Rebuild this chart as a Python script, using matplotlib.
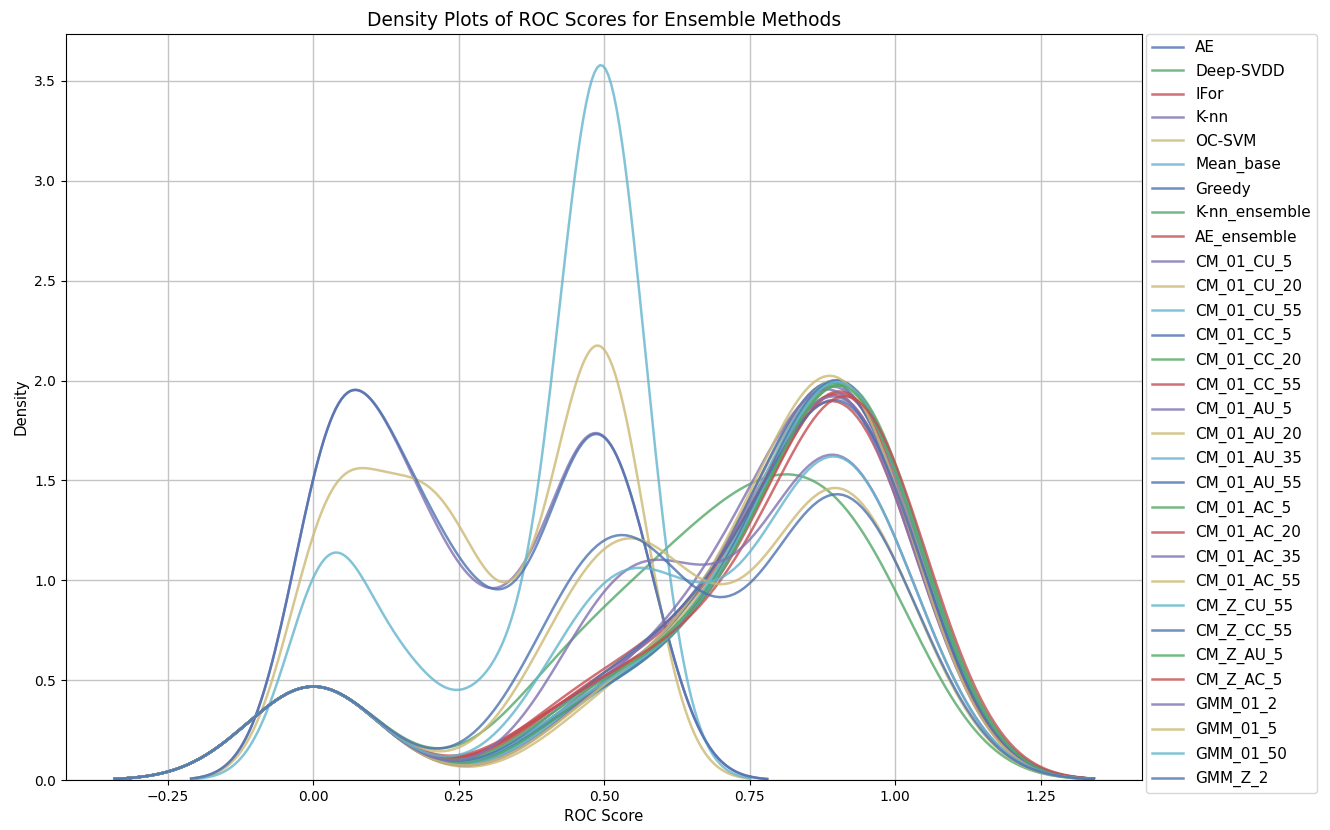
import numpy as np
import matplotlib
matplotlib.use("Agg")
import matplotlib.pyplot as plt

# ---------------- data: ROC scores per method (one value per dataset) ----------------
methods = ["AE", "Deep-SVDD", "IFor", "K-nn", "OC-SVM", "Mean_base", "Greedy",
           "K-nn_ensemble", "AE_ensemble", "CM_01_CU_5", "CM_01_CU_20", "CM_01_CU_55",
           "CM_01_CC_5", "CM_01_CC_20", "CM_01_CC_55", "CM_01_AU_5", "CM_01_AU_20",
           "CM_01_AU_35", "CM_01_AU_55", "CM_01_AC_5", "CM_01_AC_20", "CM_01_AC_35",
           "CM_01_AC_55", "CM_Z_CU_55", "CM_Z_CC_55", "CM_Z_AU_5", "CM_Z_AC_5",
           "GMM_01_2", "GMM_01_5", "GMM_01_50", "GMM_Z_2"]

scores_AE = [0, 0, 0.46, 0.59, 0.69, 0.76, 0.81, 0.85, 0.88, 0.90, 0.92, 0.94, 0.96, 0.98, 1.0]
scores_Deep_SVDD = [0, 0, 0.40, 0.48, 0.56, 0.62, 0.67, 0.72, 0.76, 0.80, 0.84, 0.88, 0.92, 0.96, 1.0]
scores_IFor = [0, 0, 0.43, 0.56, 0.66, 0.74, 0.80, 0.84, 0.88, 0.90, 0.92, 0.94, 0.96, 0.98, 1.0]
scores_Knn = [0.0, 0.015, 0.04, 0.07, 0.10, 0.14, 0.18, 0.23, 0.31, 0.39, 0.45, 0.47, 0.50, 0.53, 0.57]
scores_OC_SVM = [0.0, 0.02, 0.05, 0.10, 0.15, 0.19, 0.23, 0.27, 0.37, 0.45, 0.47, 0.49, 0.50, 0.52, 0.54]
scores_Mean_base = [0.0, 0.025, 0.07, 0.17, 0.32, 0.44, 0.46, 0.47, 0.48, 0.49, 0.50, 0.51, 0.52, 0.53, 0.55]
scores_Greedy = [0.0, 0.015, 0.04, 0.07, 0.10, 0.14, 0.18, 0.23, 0.30, 0.39, 0.45, 0.47, 0.50, 0.53, 0.57]
scores_Knn_ensemble = [0, 0, 0.45, 0.58, 0.68, 0.76, 0.81, 0.85, 0.88, 0.90, 0.92, 0.94, 0.96, 0.98, 1.0]
scores_AE_ensemble = [0, 0, 0.44, 0.56, 0.66, 0.73, 0.79, 0.84, 0.87, 0.89, 0.91, 0.93, 0.95, 0.98, 1.0]
scores_CM_01_CU_5 = [0, 0, 0.47, 0.60, 0.69, 0.75, 0.80, 0.84, 0.87, 0.89, 0.91, 0.94, 0.96, 0.98, 1.0]
scores_CM_01_CU_20 = [0, 0, 0.49, 0.61, 0.70, 0.76, 0.81, 0.84, 0.87, 0.90, 0.92, 0.94, 0.96, 0.98, 1.0]
scores_CM_01_CU_55 = [0, 0, 0.47, 0.60, 0.69, 0.76, 0.81, 0.85, 0.88, 0.90, 0.92, 0.94, 0.96, 0.98, 1.0]
scores_CM_01_CC_5 = [0, 0, 0.46, 0.59, 0.68, 0.75, 0.80, 0.84, 0.87, 0.89, 0.91, 0.93, 0.95, 0.97, 1.0]
scores_CM_01_CC_20 = [0, 0, 0.45, 0.59, 0.69, 0.76, 0.81, 0.85, 0.88, 0.91, 0.93, 0.95, 0.96, 0.98, 1.0]
scores_CM_01_CC_55 = [0, 0, 0.42, 0.56, 0.66, 0.74, 0.80, 0.85, 0.88, 0.90, 0.92, 0.94, 0.96, 0.98, 1.0]
scores_CM_01_AU_5 = [0, 0, 0.46, 0.58, 0.67, 0.74, 0.79, 0.83, 0.87, 0.89, 0.91, 0.94, 0.96, 0.98, 1.0]
scores_CM_01_AU_20 = [0, 0, 0.48, 0.60, 0.69, 0.76, 0.81, 0.85, 0.88, 0.90, 0.92, 0.94, 0.96, 0.98, 1.0]
scores_CM_01_AU_35 = [0, 0, 0.46, 0.60, 0.69, 0.76, 0.81, 0.85, 0.87, 0.90, 0.92, 0.94, 0.96, 0.98, 1.0]
scores_CM_01_AU_55 = [0, 0, 0.45, 0.59, 0.69, 0.76, 0.81, 0.85, 0.88, 0.90, 0.92, 0.94, 0.96, 0.98, 1.0]
scores_CM_01_AC_5 = [0, 0, 0.46, 0.59, 0.68, 0.75, 0.81, 0.85, 0.88, 0.91, 0.93, 0.94, 0.96, 0.98, 1.0]
scores_CM_01_AC_20 = [0, 0, 0.43, 0.55, 0.65, 0.72, 0.78, 0.83, 0.86, 0.89, 0.91, 0.93, 0.95, 0.97, 1.0]
scores_CM_01_AC_35 = [0, 0, 0.48, 0.60, 0.68, 0.74, 0.79, 0.83, 0.86, 0.88, 0.91, 0.93, 0.95, 0.97, 1.0]
scores_CM_01_AC_55 = [0, 0, 0.48, 0.60, 0.69, 0.76, 0.80, 0.84, 0.87, 0.89, 0.91, 0.93, 0.95, 0.97, 0.99]
scores_CM_Z_CU_55 = [0, 0, 0.45, 0.58, 0.68, 0.76, 0.81, 0.85, 0.88, 0.90, 0.92, 0.94, 0.96, 0.98, 1.0]
scores_CM_Z_CC_55 = [0, 0, 0.45, 0.57, 0.66, 0.73, 0.79, 0.83, 0.87, 0.89, 0.91, 0.94, 0.96, 0.98, 1.0]
scores_CM_Z_AU_5 = [0, 0, 0.44, 0.57, 0.67, 0.75, 0.81, 0.85, 0.88, 0.90, 0.92, 0.94, 0.96, 0.98, 1.0]
scores_CM_Z_AC_5 = [0, 0, 0.43, 0.56, 0.66, 0.74, 0.80, 0.85, 0.89, 0.91, 0.93, 0.95, 0.97, 0.99, 1.0]
scores_GMM_01_2 = [0, 0, 0.47, 0.52, 0.56, 0.60, 0.64, 0.79, 0.83, 0.86, 0.89, 0.91, 0.94, 0.97, 1.0]
scores_GMM_01_5 = [0, 0, 0.43, 0.48, 0.52, 0.55, 0.59, 0.64, 0.81, 0.85, 0.88, 0.90, 0.93, 0.96, 1.0]
scores_GMM_01_50 = [0, 0, 0.45, 0.50, 0.54, 0.58, 0.63, 0.79, 0.83, 0.86, 0.89, 0.91, 0.94, 0.97, 1.0]
scores_GMM_Z_2 = [0, 0, 0.42, 0.47, 0.51, 0.54, 0.57, 0.62, 0.80, 0.85, 0.88, 0.90, 0.93, 0.97, 1.0]

all_scores = [scores_AE, scores_Deep_SVDD, scores_IFor, scores_Knn, scores_OC_SVM,
              scores_Mean_base, scores_Greedy, scores_Knn_ensemble, scores_AE_ensemble,
              scores_CM_01_CU_5, scores_CM_01_CU_20, scores_CM_01_CU_55, scores_CM_01_CC_5,
              scores_CM_01_CC_20, scores_CM_01_CC_55, scores_CM_01_AU_5, scores_CM_01_AU_20,
              scores_CM_01_AU_35, scores_CM_01_AU_55, scores_CM_01_AC_5, scores_CM_01_AC_20,
              scores_CM_01_AC_35, scores_CM_01_AC_55, scores_CM_Z_CU_55, scores_CM_Z_CC_55,
              scores_CM_Z_AU_5, scores_CM_Z_AC_5, scores_GMM_01_2, scores_GMM_01_5,
              scores_GMM_01_50, scores_GMM_Z_2]

# kernel bandwidth used for each method's density estimate
bandwidths = {"K-nn": 0.07, "OC-SVM": 0.07, "Mean_base": 0.067, "Greedy": 0.07}
default_bw = 0.1137

palette = ["#4C72B0", "#55A868", "#C44E52", "#8172B2", "#CCB974", "#64B5CD"]


def gaussian_kde_curve(values, bw, gridsize=200, cut=3):
    v = np.asarray(values, dtype=float)
    grid = np.linspace(v.min() - cut * bw, v.max() + cut * bw, gridsize)
    z = (grid[:, None] - v[None, :]) / bw
    dens = np.exp(-0.5 * z ** 2).sum(axis=1) / (len(v) * bw * np.sqrt(2 * np.pi))
    return grid, dens


fig = plt.figure(figsize=(13.3, 8.3), dpi=100)
ax = fig.add_axes([66 / 1330, 1 - 780 / 830, (1142 - 66) / 1330, (780 - 34) / 830])

for i, (name, vals) in enumerate(zip(methods, all_scores)):
    bw = bandwidths.get(name, default_bw)
    gx, gy = gaussian_kde_curve(vals, bw)
    ax.plot(gx, gy, color=palette[i % len(palette)], lw=1.8, alpha=0.8, label=name)

ax.set_xlim(-0.425, 1.424)
ax.set_ylim(0, 3.735)
ax.set_xticks([-0.25, 0.0, 0.25, 0.5, 0.75, 1.0, 1.25])
ax.set_yticks(np.arange(0, 3.51, 0.5))
ax.tick_params(labelsize=10)
ax.grid(True, color="#c4c4c4", lw=1.0)
ax.set_axisbelow(True)
ax.set_title("Density Plots of ROC Scores for Ensemble Methods", fontsize=13.4)
ax.set_xlabel("ROC Score", fontsize=10.7)
ax.set_ylabel("Density", fontsize=10.7)
ax.legend(loc="upper left", bbox_to_anchor=(1.004, 1.0), borderaxespad=0,
          fontsize=11, labelspacing=0.55)

fig.savefig("out.png", dpi=100)
